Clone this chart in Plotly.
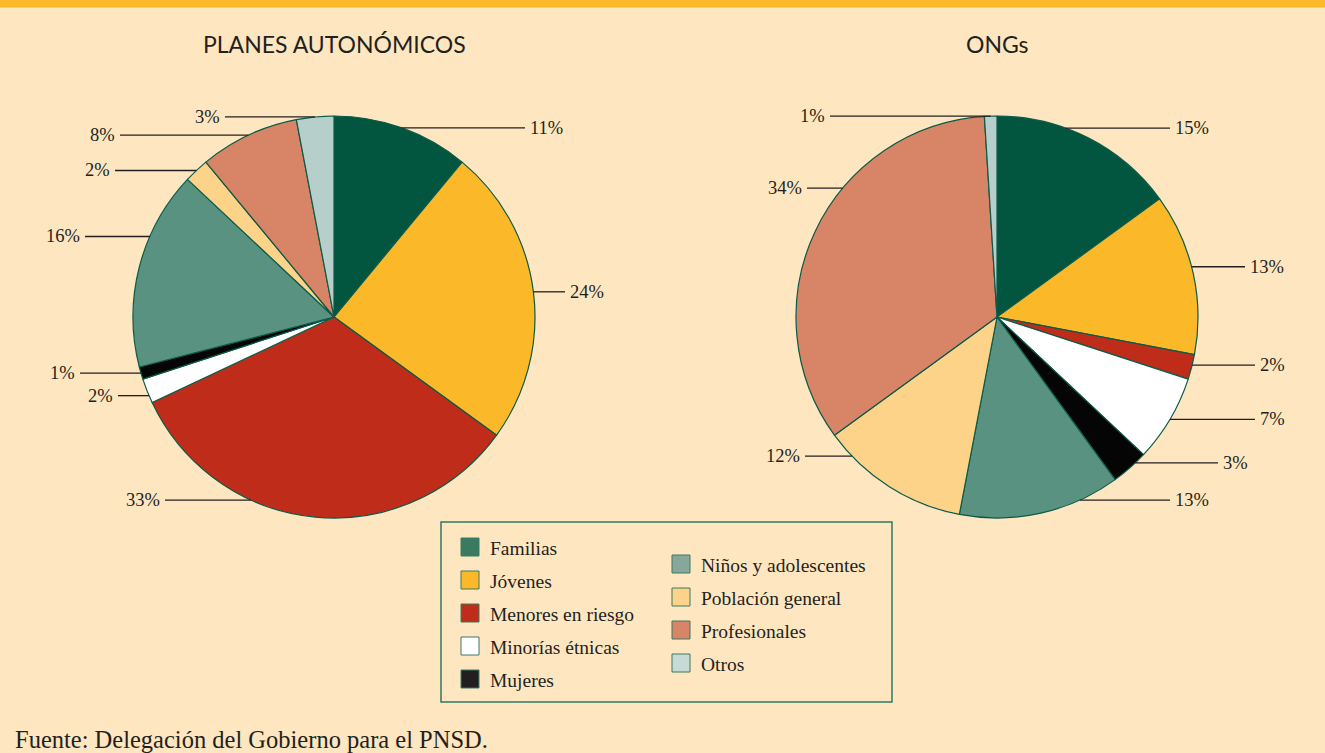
import math
import plotly.graph_objects as go

# ---------------- data ----------------
categories = ["Familias", "Jóvenes", "Menores en riesgo", "Minorías étnicas", "Mujeres",
              "Niños y adolescentes", "Población general", "Profesionales", "Otros"]
planes_values = [11, 24, 33, 2, 1, 16, 2, 8, 3]
ong_values = [15, 13, 2, 7, 3, 13, 12, 34, 1]
titles = ["PLANES AUTONÓMICOS", "ONGs"]
source_text = "Fuente: Delegación del Gobierno para el PNSD."

# ---------------- styles / layout ----------------
colors = ["#02553F", "#FBB829", "#C02C1A", "#FFFFFF", "#050505",
          "#5A9282", "#FDD38A", "#D88466", "#B6CFCB"]
legend_swatch = ["#3A7A63", "#FBB829", "#C02C1A", "#FFFFFF", "#231F20",
                 "#88A79B", "#FDD38A", "#D88466", "#C8DAD5"]
BG = "#FEE7C0"
W, H = 1325, 753
R = 201
centers = [(334, 317), (997, 317)]
# where along each slice the leader line starts (fraction of the slice)
leader_frac = [[0.5, 0.5, 0.66, 0.3, 0.5, 0.66, 0.5, 0.5, 0.5],
               [0.37, 0.46, 0.42, 0.5, 0.31, 0.25, 0.82, 0.62, 0.5]]
# x pixel where each leader line ends
leader_end = [[525, 565, 165, 118, 80, 85, 115, 120, 225],
              [1170, 1245, 1255, 1255, 1218, 1170, 805, 807, 830]]

def px(x):
    return x / W

def py(y):
    return 1 - y / H

fig = go.Figure()
shapes = []
annotations = []

for k, vals in enumerate([planes_values, ong_values]):
    cx, cy = centers[k]
    fig.add_trace(go.Pie(
        labels=categories, values=vals, sort=False, direction="clockwise", rotation=0,
        marker=dict(colors=colors, line=dict(color="#0B5A47", width=1.2)),
        textinfo="none", hoverinfo="label+percent", showlegend=False,
        domain=dict(x=[px(cx - R), px(cx + R)], y=[py(cy + R), py(cy - R)]),
    ))
    total = sum(vals)
    cum = 0
    for i, v in enumerate(vals):
        a0 = cum / total * 360
        a1 = (cum + v) / total * 360
        cum += v
        th = math.radians(a0 + (a1 - a0) * leader_frac[k][i])
        x0 = cx + R * math.sin(th)
        y0 = cy - R * math.cos(th)
        xe = leader_end[k][i]
        shapes.append(dict(type="line", xref="paper", yref="paper",
                           x0=px(x0), y0=py(y0), x1=px(xe), y1=py(y0),
                           line=dict(color="#231F20", width=1.3)))
        right = xe > x0
        annotations.append(dict(
            x=px(xe + (3 if right else -3)), y=py(y0), xref="paper", yref="paper",
            text=f"{round(v / total * 100)}%", showarrow=False,
            xanchor="left" if right else "right", yanchor="middle",
            font=dict(family="Liberation Serif", size=18.5, color="#231F20")))
    annotations.append(dict(
        x=px(cx), y=py(44), xref="paper", yref="paper", text=titles[k], showarrow=False,
        xanchor="center", yanchor="middle",
        font=dict(family="Lato", size=23, color="#231F20")))

# top orange bar
shapes.append(dict(type="rect", xref="paper", yref="paper", x0=0, x1=1, y0=py(7.5), y1=1,
                   fillcolor="#FBB829", line=dict(width=0), layer="below"))

# legend box
shapes.append(dict(type="rect", xref="paper", yref="paper", x0=px(441), x1=px(892),
                   y0=py(702), y1=py(522), fillcolor="rgba(0,0,0,0)",
                   line=dict(color="#2E7A63", width=1.5)))
col_layout = [(461, 547, 5), (672, 564, 4)]  # x, first row centre y, count
idx = 0
for (lx, ly, n) in col_layout:
    for j in range(n):
        yc = ly + j * 33
        shapes.append(dict(type="rect", xref="paper", yref="paper",
                           x0=px(lx), x1=px(lx + 18), y0=py(yc + 9), y1=py(yc - 9),
                           fillcolor=legend_swatch[idx], line=dict(color="#3A7A63", width=1)))
        annotations.append(dict(
            x=px(lx + 27), y=py(yc + 1), xref="paper", yref="paper", text=categories[idx],
            showarrow=False, xanchor="left", yanchor="middle",
            font=dict(family="Liberation Serif", size=19.5, color="#231F20")))
        idx += 1

annotations.append(dict(
    x=px(13), y=py(739), xref="paper", yref="paper", text=source_text, showarrow=False,
    xanchor="left", yanchor="middle",
    font=dict(family="Liberation Serif", size=24.5, color="#231F20")))

fig.update_layout(
    width=W, height=H, margin=dict(l=0, r=0, t=0, b=0),
    paper_bgcolor=BG, plot_bgcolor=BG,
    shapes=shapes, annotations=annotations, showlegend=False,
)

fig.write_html("out.html", config={"displayModeBar": False},
               post_script="document.body.style.margin='0';"
                           "document.body.style.background='" + BG + "';")
